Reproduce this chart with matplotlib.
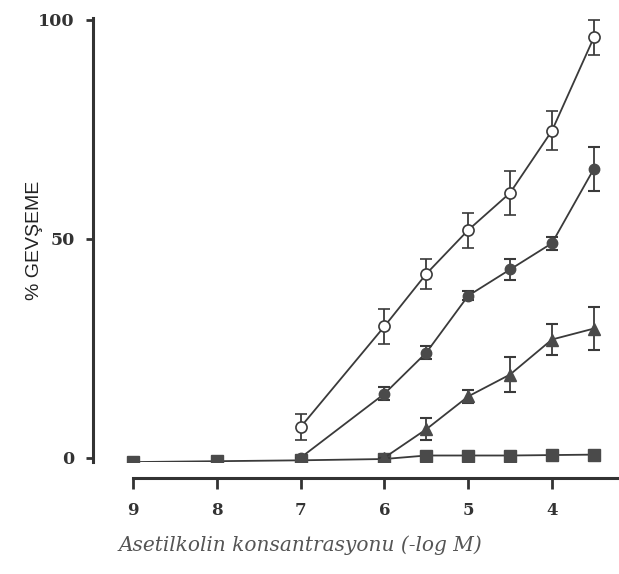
import numpy as np
import matplotlib
matplotlib.use('Agg')
import matplotlib.pyplot as plt

# -log M concentrations
conc = [9, 8, 7, 6, 5.5, 5, 4.5, 4, 3.5]
x_ticks = [9, 8, 7, 6, 5, 4]

# open circles
open_x = [7, 6, 5.5, 5, 4.5, 4, 3.5]
open_y = [7, 30, 42, 52, 60.5, 74.7, 96]
open_err = [3, 4, 3.5, 4, 5, 4.5, 4]

# filled circles
fill_x = [7, 6, 5.5, 5, 4.5, 4, 3.5]
fill_y = [0, 14.6, 24, 37, 43, 49, 66]
fill_err = [0, 1.5, 1.5, 1, 2.5, 1.5, 5]

# triangles
tri_x = [6, 5.5, 5, 4.5, 4, 3.5]
tri_y = [0, 6.5, 14, 19, 27, 29.5]
tri_err = [0, 2.5, 1.5, 4, 3.5, 5]

# squares
sq_y = [-1, -0.8, -0.6, -0.3, 0.5, 0.5, 0.5, 0.6, 0.7]

line_c = '#3a3a3a'
mark_c = '#4a4a4a'

fig = plt.figure(figsize=(6.19, 5.74), dpi=100)
ax = fig.add_axes([0.150, 0.195, 0.85, 0.774])

# squares (baseline) first
ax.plot(conc, sq_y, color=line_c, lw=1.3, marker='s', ms=9,
        mfc=mark_c, mec=mark_c, zorder=2)

ax.errorbar(tri_x, tri_y, yerr=tri_err, color=line_c, lw=1.3,
            marker='^', ms=8, mfc=mark_c, mec=mark_c,
            capsize=4.5, elinewidth=1.3, capthick=1.5, zorder=3)
ax.errorbar(fill_x, fill_y, yerr=fill_err, color=line_c, lw=1.3,
            marker='o', ms=7.5, mfc=mark_c, mec=mark_c,
            capsize=4.5, elinewidth=1.3, capthick=1.5, zorder=3)
ax.errorbar(open_x, open_y, yerr=open_err, color=line_c, lw=1.3,
            marker='o', ms=8, mfc='white', mec=line_c, mew=1.2,
            capsize=4.5, elinewidth=1.3, capthick=1.5, zorder=4)

ax.set_xlim(9.48, 3.2)
ax.set_ylim(-1, 100.5)

ax.spines['top'].set_visible(False)
ax.spines['right'].set_visible(False)
ax.spines['left'].set_linewidth(2.2)
ax.spines['left'].set_color('#333333')
ax.spines['bottom'].set_linewidth(2.2)
ax.spines['bottom'].set_color('#333333')
ax.spines['bottom'].set_position(('outward', 11.5))
ax.spines['bottom'].set_bounds(9, 3.2)

ax.set_xticks(x_ticks)
ax.set_xticklabels([str(t) for t in x_ticks], family='DejaVu Serif',
                   fontweight='bold', fontsize=12, color='#333333')
ax.set_yticks([0, 50, 100])
ax.set_yticklabels(['0', '50', '100'], family='DejaVu Serif',
                   fontweight='bold', fontsize=12.5, color='#333333')
ax.tick_params(axis='x', direction='out', length=8, width=2, color='#333333', pad=9)
ax.tick_params(axis='y', direction='out', length=5, width=2, color='#333333', pad=8)

ax.set_ylabel('% GEVŞEME', family='Liberation Sans', fontsize=14,
              color='#222222')
ax.yaxis.set_label_coords(-0.095, 0.5)
ax.set_xlabel('Asetilkolin konsantrasyonu (-log M)', family='DejaVu Serif',
              style='italic', fontsize=14.5, color='#555555')
ax.xaxis.set_label_coords(0.394, -0.165)

fig.savefig('out.png', dpi=100)
